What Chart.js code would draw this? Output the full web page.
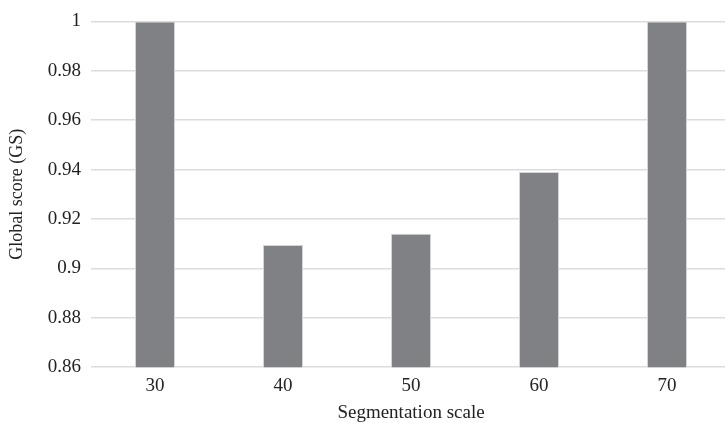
<!DOCTYPE html>
<html>
<head>
<meta charset="utf-8">
<script src="https://cdn.jsdelivr.net/npm/chart.js@4"></script>
<style>
  html, body { margin: 0; padding: 0; background: #fff; overflow: hidden; }
  #wrap { position: relative; width: 735px; height: 423px; }
</style>
</head>
<body>
<div id="wrap"><canvas id="gsChart"></canvas></div>
<script>
// Data
const scales = ['30', '40', '50', '60', '70'];
const globalScore = [1.0, 0.9095, 0.914, 0.939, 1.0];
const yMin = 0.86;
const yMax = 1;
const yStep = 0.02;

const serif = "'Liberation Serif', 'DejaVu Serif', serif";

const ctx = document.getElementById('gsChart').getContext('2d');
const gsChart = new Chart(ctx, {
    type: 'bar',
    data: {
        labels: scales,
        datasets: [
            {
                label: 'Global score (GS)',
                data: globalScore,
                backgroundColor: '#808184',
                borderColor: '#d4d4d4',
                borderWidth: 1,
                barPercentage: 0.625,
                categoryPercentage: 0.5,
            }
        ],
    },
    options: {
        responsive: true,
        maintainAspectRatio: false,
        animation: false,
        layout: {
            padding: { top: 11, right: 4, bottom: 0, left: 6 },
        },
        plugins: {
            legend: { display: false },
            tooltip: { enabled: false },
        },
        scales: {
            x: {
                grid: { display: false, drawTicks: false },
                border: { display: false },
                ticks: {
                    color: '#222',
                    font: { family: serif, size: 19 },
                    padding: 7,
                },
                title: {
                    display: true,
                    text: 'Segmentation scale',
                    color: '#222',
                    font: { family: serif, size: 19, lineHeight: 1.0 },
                    padding: { top: 0, bottom: 0 },
                },
            },
            y: {
                min: yMin,
                max: yMax,
                grid: { color: '#dcdcdc', lineWidth: 1.5, drawTicks: false },
                border: { display: false },
                ticks: {
                    stepSize: yStep,
                    color: '#222',
                    font: { family: serif, size: 19 },
                    padding: 10,
                    callback: (v) => String(parseFloat(v.toFixed(2))),
                },
                title: {
                    display: true,
                    text: 'Global score (GS)',
                    color: '#222',
                    font: { family: serif, size: 18 },
                    padding: { top: 0, bottom: 5 },
                },
                afterFit: (scale) => { scale.width = 85; },
            },
        },
    },
});
</script>
</body>
</html>
